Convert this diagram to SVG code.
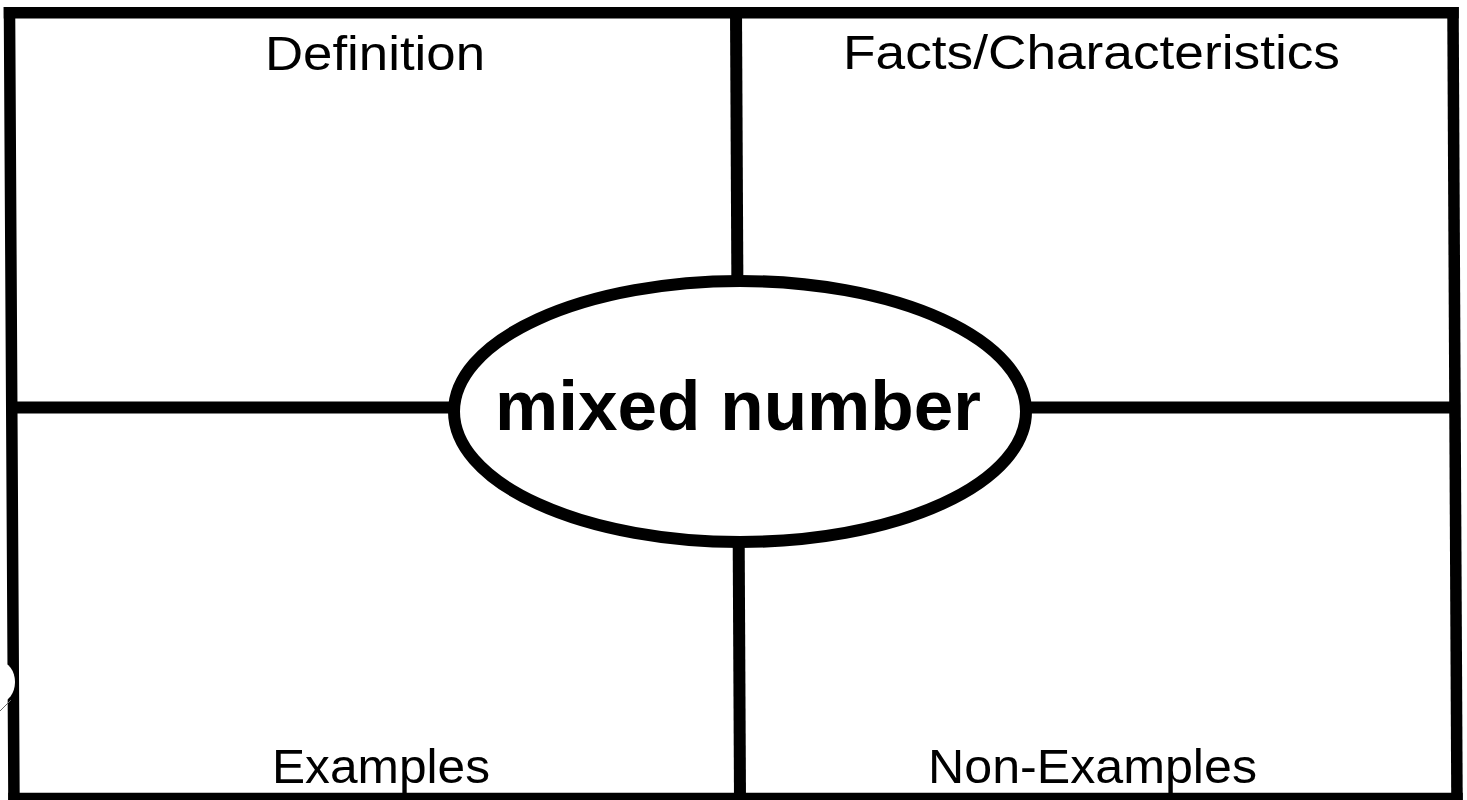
<svg xmlns="http://www.w3.org/2000/svg" width="1467" height="800" viewBox="0 0 1467 800">
  <style>
    .frame { stroke: #000; stroke-width: 11.5; fill: none; stroke-linecap: square; }
    .conn { stroke: #000; stroke-width: 12; fill: none; }
    .label { font-family: "Liberation Sans", Arial, sans-serif; font-size: 48px; fill: #000; text-anchor: middle; }
    .center { font-family: "Liberation Sans", Arial, sans-serif; font-size: 70px; font-weight: bold; fill: #000; text-anchor: middle; }
  </style>
  <rect x="0" y="0" width="1467" height="800" fill="#fff"/>
  <g id="frame">
    <line class="frame" x1="9.5" y1="12.75" x2="1453" y2="12.75"/>
    <line class="frame" x1="9.5" y1="12.75" x2="14" y2="805"/>
    <line class="frame" x1="1453" y1="12.75" x2="1457" y2="805"/>
    <line class="frame" x1="14" y1="798.5" x2="1457" y2="798.5"/>
  </g>
  <g id="connectors">
    <line class="conn" x1="736" y1="12" x2="740" y2="800"/>
    <line class="conn" x1="10" y1="407.5" x2="1455" y2="407.5"/>
  </g>
  <g id="artifact">
    <ellipse cx="0" cy="682" rx="15" ry="20" fill="#fff"/>
    <line x1="0" y1="711" x2="11" y2="700" stroke="#666" stroke-width="1"/>
  </g>
  <g id="node-center">
    <ellipse cx="740" cy="411.5" rx="286" ry="130.5" fill="#fff" stroke="#000" stroke-width="12"/>
    <text class="center" x="738" y="430" textLength="486" lengthAdjust="spacingAndGlyphs">mixed number</text>
  </g>
  <g id="node-definition">
    <text class="label" x="375" y="70" textLength="220" lengthAdjust="spacingAndGlyphs">Definition</text>
  </g>
  <g id="node-facts">
    <text class="label" x="1091.5" y="69" textLength="497" lengthAdjust="spacingAndGlyphs">Facts/Characteristics</text>
  </g>
  <g id="node-examples">
    <text class="label" x="381" y="783" textLength="218" lengthAdjust="spacingAndGlyphs">Examples</text>
  </g>
  <g id="node-nonexamples">
    <text class="label" x="1092.5" y="783" textLength="329" lengthAdjust="spacingAndGlyphs">Non-Examples</text>
  </g>
</svg>
